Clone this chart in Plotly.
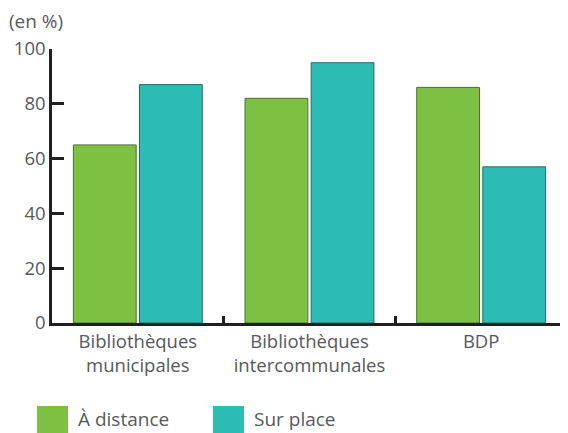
import plotly.graph_objects as go

categories = ["Bibliothèques<br>municipales", "Bibliothèques<br>intercommunales", "BDP"]
a_distance = [65, 82, 86]
sur_place = [87, 95, 57]
series_names = ["À distance", "Sur place"]

GREEN = "#7dc142"
TEAL = "#2bbdb4"
FONT = "Open Sans"
GREY = "#58595b"
AXIS = "#231f20"

# page body has an 8px margin, so the figure is drawn at (8, 8)
fig = go.Figure()
fig.add_trace(go.Bar(
    x=categories, y=a_distance, name=series_names[0],
    marker=dict(color=GREEN, line=dict(color="#4f6e33", width=1)),
))
fig.add_trace(go.Bar(
    x=categories, y=sur_place, name=series_names[1],
    marker=dict(color=TEAL, line=dict(color="#1f6e69", width=1)),
))

fig.update_layout(
    width=560, height=425,
    margin=dict(l=44, r=1, t=41, b=110),
    paper_bgcolor="white", plot_bgcolor="white",
    barmode="group", bargap=0.23, bargroupgap=0.05,
    showlegend=False,
    font=dict(family=FONT, size=18, color=GREY),
)
fig.update_yaxes(
    range=[0, 100], tickvals=[0, 20, 40, 60, 80, 100],
    showgrid=False, zeroline=False, automargin=False,
    showline=True, linecolor=AXIS, linewidth=2.5,
    ticks="inside", ticklen=12, tickwidth=2.5, tickcolor=AXIS,
    tickfont=dict(size=18.5, color=GREY),
)
fig.update_xaxes(
    showgrid=False, automargin=False,
    showline=True, linecolor=AXIS, linewidth=2.5,
    ticks="inside", tickson="boundaries", ticklen=7, tickwidth=2.5, tickcolor=AXIS,
    tickfont=dict(size=18.5, color=GREY),
)

fig.add_annotation(
    text="(en %)", xref="paper", yref="paper", x=(7 - 52) / 515, y=(323 - 21) / 274,
    xanchor="left", yanchor="middle", showarrow=False,
    font=dict(size=19, color=GREY),
)

# legend drawn by hand (big square swatches)
legend_items = [(series_names[0], GREEN, 37), (series_names[1], TEAL, 213)]
for name, color, x0 in legend_items:
    fig.add_shape(
        type="rect", xref="paper", yref="paper",
        x0=(x0 - 52) / 515, x1=(x0 + 31 - 52) / 515,
        y0=(323 - 433) / 274, y1=(323 - 406) / 274,
        fillcolor=color, line=dict(width=0),
    )
    fig.add_annotation(
        text=name, xref="paper", yref="paper",
        x=(x0 + 39 - 52) / 515, y=(323 - 419) / 274,
        xanchor="left", yanchor="middle", showarrow=False,
        font=dict(size=19, color=GREY),
    )

fig.write_html("out.html")
